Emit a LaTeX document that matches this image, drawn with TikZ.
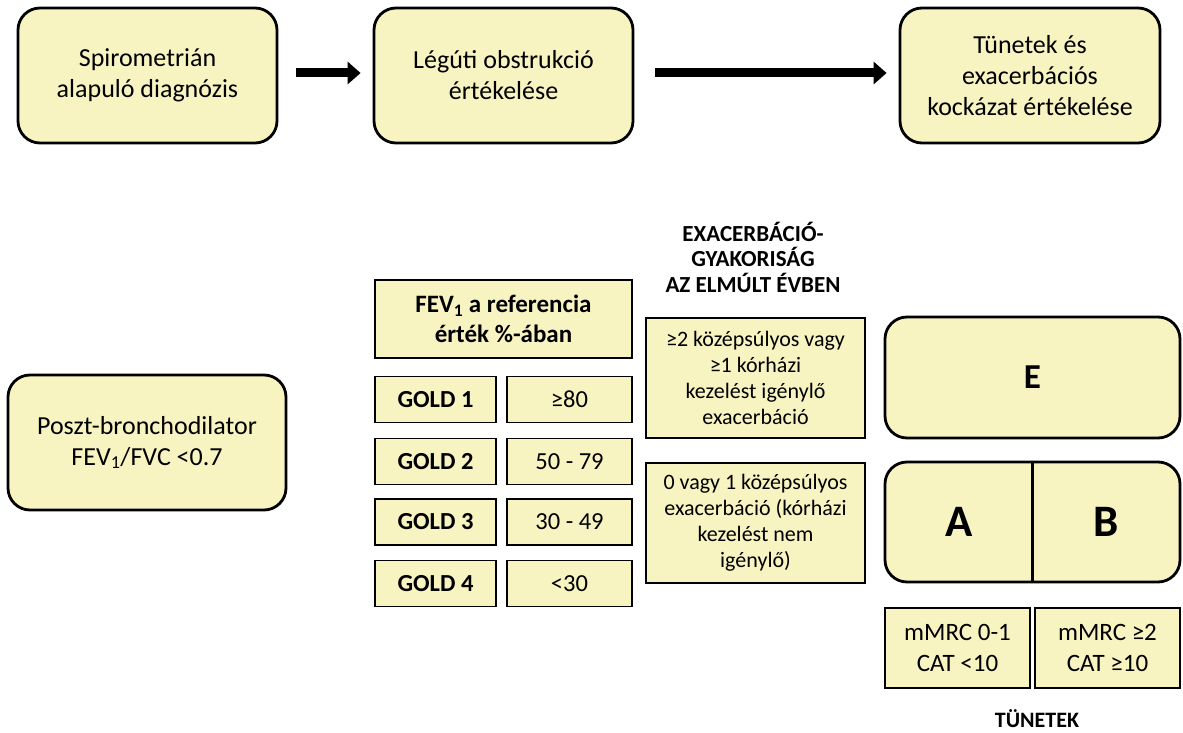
\documentclass[tikz,border=0pt]{standalone}
\usepackage{fontspec}
\setmainfont{Carlito}
\usetikzlibrary{arrows.meta}
\definecolor{boxfill}{HTML}{F8F4C2}
\begin{document}
\begin{tikzpicture}[x=1pt,y=-1pt,
  rbox/.style={draw=black, line width=2.8pt, fill=boxfill, rounded corners=22pt, inner sep=0pt, align=center},
  sbox/.style={draw=black, line width=1.8pt, fill=boxfill, inner sep=0pt, align=center},
  flow/.style={line width=9pt, -{Triangle[length=13pt,width=22pt]}},
  big/.style={font=\fontsize{26}{31}\selectfont},
  small/.style={font=\fontsize{22}{26}\selectfont},
  head/.style={font=\bfseries\fontsize{23}{25.5}\selectfont, align=center, inner sep=0pt},
  gold/.style={sbox, minimum width=121pt, minimum height=46pt, font=\bfseries\fontsize{24.5}{28}\selectfont},
  val/.style={sbox, minimum width=125pt, minimum height=46pt, font=\fontsize{24.5}{28}\selectfont},
  sym/.style={sbox, minimum width=145pt, minimum height=80pt, font=\fontsize{25}{31}\selectfont},
  ]
\useasboundingbox (0,0) rectangle (1183,733);

% top row
\node[rbox, big, minimum width=259pt, minimum height=135pt] (s1) at (147.5,75.5) {Spirometrián\\alapuló diagnózis};
\node[rbox, big, minimum width=259pt, minimum height=135pt] (s2) at (503.5,75.5) {Légúti obstrukció\\értékelése};
\node[rbox, big, minimum width=260pt, minimum height=135pt] (s3) at (1030,75.5) {Tünetek és\\exacerbációs\\kockázat értékelése};
\draw[flow] ([xshift=18pt,yshift=2.5pt]s1.east) -- ([xshift=-12pt,yshift=2.5pt]s2.west);
\draw[flow] ([xshift=21pt,yshift=2.5pt]s2.east) -- ([xshift=-12pt,yshift=2.5pt]s3.west);

% left
\node[rbox, big, minimum width=278pt, minimum height=135pt] (pb) at (147,442.5) {Poszt-bronchodilator\\FEV\textsubscript{1}/FVC <0.7};

% FEV1 table
\node[sbox, minimum width=257pt, minimum height=78pt, font=\bfseries\fontsize{25}{30}\selectfont] (fev) at (503.5,319) {FEV\textsubscript{1} a referencia\\érték \%-ában};
\node[gold] (g1) at (435.5,399.5) {GOLD 1};
\node[val] (v1) at (569.5,399.5) {≥80};
\node[gold] (g2) at (435.5,461.5) {GOLD 2};
\node[val] (v2) at (569.5,461.5) {50 - 79};
\node[gold] (g3) at (435.5,522) {GOLD 3};
\node[val] (v3) at (569.5,522) {30 - 49};
\node[gold] (g4) at (435.5,583.5) {GOLD 4};
\node[val] (v4) at (569.5,583.5) {<30};

% exacerbation
\node[head] (exh) at (753,257) {EXACERBÁCIÓ-\\GYAKORISÁG\\AZ ELMÚLT ÉVBEN};
\node[sbox, small, minimum width=219pt, minimum height=120pt] (ex1) at (755.5,378) {≥2 középsúlyos vagy\\≥1 kórházi\\kezelést igénylő\\exacerbáció};
\node[sbox, small, minimum width=219pt, minimum height=120pt] (ex2) at (755.5,523) {0 vagy 1 középsúlyos\\exacerbáció (kórházi\\kezelést nem\\igénylő)};

% groups
\node[rbox, minimum width=295pt, minimum height=121pt, font=\bfseries\fontsize{35}{40}\selectfont] (E) at (1032.5,377.5) {E};
\node[rbox, minimum width=295pt, minimum height=120pt] (AB) at (1032.5,522) {};
\draw[line width=2.4pt] (AB.north) -- (AB.south);
\node[font=\bfseries\fontsize{45}{50}\selectfont, inner sep=0pt] (A) at (959,522) {A};
\node[font=\bfseries\fontsize{45}{50}\selectfont, inner sep=0pt] (B) at (1106,522) {B};

% symptoms
\node[sym] (m1) at (957.5,648) {mMRC 0-1\\CAT <10};
\node[sym] (m2) at (1107.5,648) {mMRC ≥2\\CAT ≥10};
\node[font=\bfseries\fontsize{22}{25}\selectfont, inner sep=0pt, anchor=base] (tun) at (1037,727) {TÜNETEK};
\end{tikzpicture}
\end{document}
